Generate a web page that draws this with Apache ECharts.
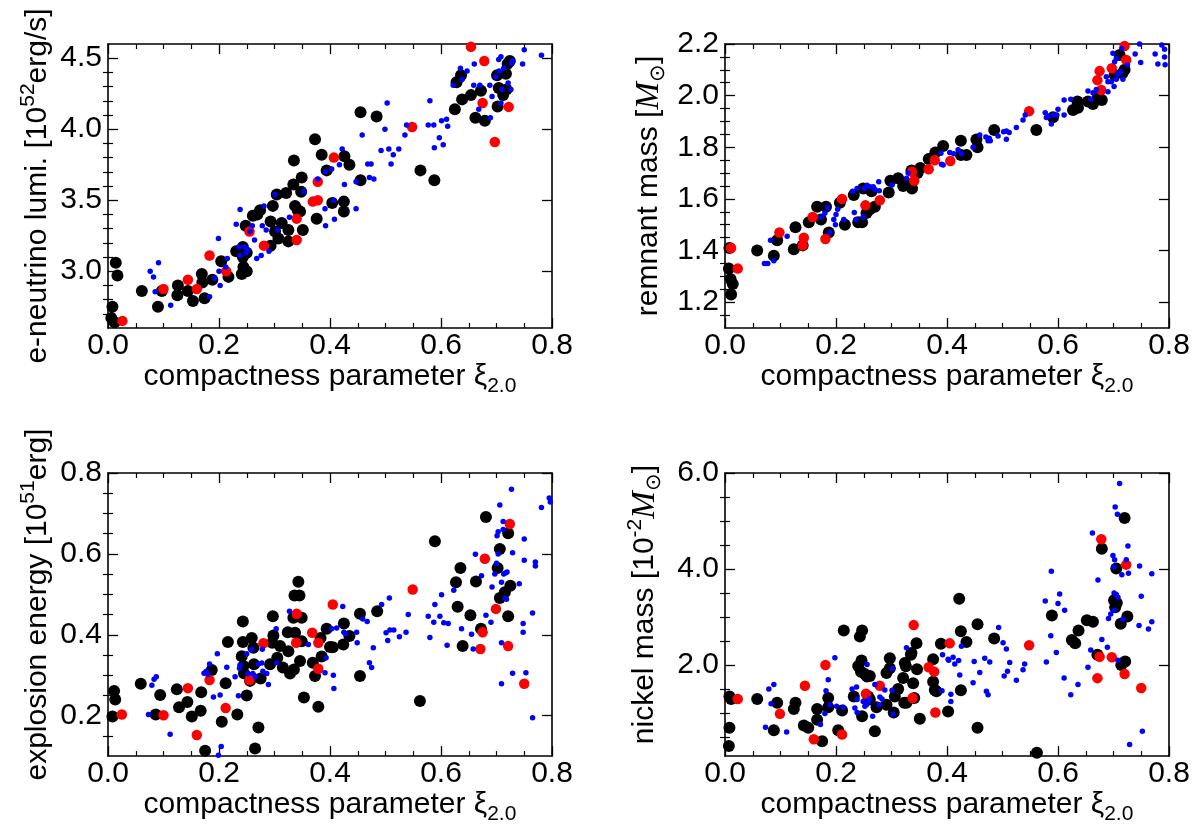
<!DOCTYPE html>
<html>
<head>
<meta charset="utf-8">
<script src="https://cdn.jsdelivr.net/npm/echarts@6/dist/echarts.min.js"></script>
<style>html,body{margin:0;padding:0;background:#fff}#chart{width:1199px;height:826px}</style>
</head>
<body>
<div id="chart"></div>
<script>
// ---- tick values ----
const xMajor = [0, 0.2, 0.4, 0.6, 0.8];
const xMinor = [0.05, 0.1, 0.15, 0.25, 0.3, 0.35, 0.45, 0.5, 0.55, 0.65, 0.7, 0.75];
const lumiMajor = [3.0, 3.5, 4.0, 4.5];
const lumiMinor = [2.7, 2.8, 2.9, 3.1, 3.2, 3.3, 3.4, 3.6, 3.7, 3.8, 3.9, 4.1, 4.2, 4.3, 4.4];
const massMajor = [1.2, 1.4, 1.6, 1.8, 2.0, 2.2];
const massMinor = [1.15, 1.25, 1.3, 1.35, 1.45, 1.5, 1.55, 1.65, 1.7, 1.75, 1.85, 1.9, 1.95, 2.05, 2.1, 2.15];
const eexpMajor = [0.2, 0.4, 0.6, 0.8];
const eexpMinor = [0.15, 0.25, 0.3, 0.35, 0.45, 0.5, 0.55, 0.65, 0.7, 0.75];
const niMajor = [2, 4, 6];
const niMinor = [0.5, 1, 1.5, 2.5, 3, 3.5, 4.5, 5, 5.5];

// ---- e-neutrino luminosity ----
const lumiBlack = [[0.008,2.75],[0.006,2.67],[0.012,2.64],[0.014,3.06],[0.017,2.97],[0.061,2.86],[0.09,2.75],[0.097,2.86],[0.126,2.90],[0.125,2.83],[0.144,2.86],[0.153,2.79],[0.169,2.98],[0.17,2.92],[0.174,2.81],[0.188,2.94],[0.204,3.07],[0.217,2.96],[0.231,3.14],[0.243,3.10],[0.244,3.03],[0.241,2.98],[0.25,3.00],[0.243,3.17],[0.25,3.13],[0.248,3.32],[0.261,3.39],[0.274,3.43],[0.269,3.40],[0.293,3.18],[0.297,3.46],[0.293,3.35],[0.301,3.28],[0.307,3.23],[0.313,3.34],[0.321,3.55],[0.304,3.54],[0.325,3.29],[0.325,3.21],[0.335,3.78],[0.334,3.61],[0.337,3.46],[0.342,3.43],[0.349,3.66],[0.348,3.56],[0.351,3.29],[0.346,3.42],[0.373,3.93],[0.376,3.37],[0.385,3.82],[0.394,3.71],[0.404,3.48],[0.426,3.81],[0.425,3.49],[0.425,3.42],[0.435,3.75],[0.455,4.12],[0.455,3.64],[0.484,4.09],[0.563,3.71],[0.588,3.64],[0.625,4.14],[0.628,4.33],[0.636,4.38],[0.638,4.21],[0.654,4.24],[0.662,4.08],[0.672,4.27],[0.679,4.06],[0.701,4.38],[0.704,4.29],[0.702,4.16],[0.712,4.24],[0.717,4.39],[0.72,4.46],[0.724,4.48],[0.718,4.28]];
const lumiRed = [[0.026,2.65],[0.1,2.875],[0.144,2.94],[0.16,2.875],[0.183,3.11],[0.213,3.0],[0.255,3.28],[0.281,3.18],[0.34,3.37],[0.34,3.22],[0.369,3.49],[0.378,3.50],[0.378,3.63],[0.407,3.80],[0.548,4.015],[0.654,4.58],[0.678,4.48],[0.675,4.185],[0.697,3.91],[0.722,4.157]];
const lumiBlue = [[0.076,3.0],[0.082,2.96],[0.091,3.06],[0.085,2.855],[0.113,2.76],[0.183,2.82],[0.192,2.95],[0.199,3.23],[0.2,3.0],[0.202,2.90],[0.212,3.03],[0.215,3.09],[0.231,3.33],[0.238,3.435],[0.236,3.17],[0.238,3.11],[0.246,3.17],[0.249,3.13],[0.252,3.15],[0.256,3.28],[0.26,3.32],[0.264,3.22],[0.268,3.09],[0.276,3.11],[0.278,3.32],[0.281,3.46],[0.285,3.29],[0.29,3.14],[0.301,3.54],[0.306,3.29],[0.327,3.38],[0.353,3.56],[0.378,3.65],[0.391,3.44],[0.392,3.32],[0.392,3.70],[0.403,3.72],[0.407,3.50],[0.408,3.365],[0.417,3.75],[0.422,3.86],[0.426,3.61],[0.447,3.44],[0.447,3.63],[0.458,3.96],[0.468,3.755],[0.474,3.755],[0.471,3.66],[0.479,3.65],[0.492,3.85],[0.499,4.0],[0.503,4.185],[0.506,3.86],[0.51,3.755],[0.514,3.82],[0.524,3.86],[0.535,3.96],[0.538,4.03],[0.577,4.03],[0.58,4.2],[0.587,4.03],[0.588,3.87],[0.597,3.94],[0.601,4.06],[0.604,3.89],[0.61,4.07],[0.612,4.02],[0.622,4.31],[0.635,4.43],[0.638,4.35],[0.647,4.41],[0.659,4.31],[0.66,4.46],[0.668,4.14],[0.67,4.31],[0.688,4.31],[0.689,4.08],[0.692,4.23],[0.699,4.37],[0.704,4.49],[0.705,4.41],[0.708,4.51],[0.71,4.28],[0.713,4.43],[0.708,4.185],[0.721,4.325],[0.726,4.28],[0.729,4.48],[0.727,4.465],[0.747,4.46],[0.75,4.56],[0.781,4.52]];

// ---- remnant mass ----
const massBlack = [[0.008,1.41],[0.007,1.33],[0.010,1.29],[0.014,1.27],[0.011,1.23],[0.058,1.40],[0.088,1.38],[0.094,1.44],[0.124,1.405],[0.127,1.49],[0.14,1.42],[0.151,1.51],[0.166,1.57],[0.173,1.52],[0.182,1.57],[0.187,1.47],[0.207,1.585],[0.216,1.50],[0.232,1.615],[0.24,1.51],[0.247,1.51],[0.249,1.64],[0.255,1.545],[0.261,1.56],[0.264,1.63],[0.27,1.57],[0.295,1.625],[0.298,1.67],[0.312,1.68],[0.321,1.65],[0.327,1.66],[0.337,1.64],[0.336,1.71],[0.352,1.72],[0.347,1.70],[0.367,1.755],[0.379,1.78],[0.393,1.805],[0.425,1.825],[0.425,1.77],[0.435,1.77],[0.453,1.83],[0.455,1.80],[0.485,1.867],[0.561,1.867],[0.591,1.916],[0.627,1.944],[0.635,1.977],[0.636,1.953],[0.654,1.977],[0.663,1.968],[0.672,1.996],[0.679,1.983],[0.702,2.08],[0.711,2.157],[0.716,2.087],[0.72,2.10]];
const massRed = [[0.011,1.41],[0.023,1.33],[0.098,1.47],[0.142,1.45],[0.14,1.42],[0.158,1.53],[0.181,1.445],[0.211,1.60],[0.253,1.575],[0.279,1.595],[0.337,1.705],[0.341,1.67],[0.367,1.715],[0.378,1.75],[0.406,1.747],[0.548,1.94],[0.675,2.095],[0.671,2.06],[0.678,2.022],[0.697,2.106],[0.72,2.192],[0.723,2.138]];
const massBlue = [[0.071,1.35],[0.077,1.35],[0.088,1.36],[0.082,1.44],[0.112,1.455],[0.173,1.53],[0.18,1.545],[0.185,1.567],[0.189,1.47],[0.196,1.52],[0.199,1.50],[0.2,1.54],[0.203,1.56],[0.214,1.52],[0.233,1.547],[0.236,1.52],[0.249,1.53],[0.23,1.63],[0.238,1.64],[0.251,1.64],[0.256,1.653],[0.261,1.647],[0.267,1.647],[0.27,1.637],[0.277,1.666],[0.278,1.632],[0.301,1.654],[0.327,1.68],[0.33,1.70],[0.389,1.777],[0.39,1.734],[0.393,1.731],[0.405,1.78],[0.412,1.775],[0.42,1.79],[0.426,1.775],[0.447,1.80],[0.459,1.848],[0.47,1.84],[0.474,1.825],[0.478,1.825],[0.476,1.835],[0.492,1.844],[0.502,1.86],[0.507,1.863],[0.512,1.857],[0.507,1.831],[0.525,1.877],[0.537,1.906],[0.541,1.925],[0.577,1.934],[0.579,1.915],[0.582,1.92],[0.588,1.89],[0.592,1.925],[0.598,1.925],[0.6,1.947],[0.611,1.925],[0.611,1.983],[0.623,1.986],[0.654,2.018],[0.659,1.986],[0.663,2.011],[0.669,2.024],[0.69,2.015],[0.687,2.073],[0.69,2.054],[0.696,2.054],[0.701,2.035],[0.705,2.063],[0.708,2.084],[0.713,2.093],[0.717,2.063],[0.699,2.164],[0.702,2.131],[0.705,2.144],[0.715,2.183],[0.725,2.119],[0.739,2.161],[0.747,2.2],[0.749,2.128],[0.775,2.161],[0.78,2.123],[0.787,2.196],[0.792,2.18],[0.792,2.15],[0.793,2.12]];

// ---- explosion energy ----
const eexpBlack = [[0.011,0.261],[0.013,0.24],[0.008,0.198],[0.059,0.279],[0.086,0.203],[0.094,0.251],[0.124,0.265],[0.128,0.221],[0.143,0.234],[0.151,0.198],[0.168,0.258],[0.167,0.212],[0.175,0.113],[0.187,0.313],[0.205,0.185],[0.212,0.28],[0.216,0.382],[0.233,0.203],[0.243,0.433],[0.243,0.382],[0.241,0.347],[0.244,0.323],[0.245,0.305],[0.25,0.25],[0.259,0.392],[0.262,0.368],[0.263,0.327],[0.256,0.286],[0.259,0.294],[0.271,0.171],[0.265,0.119],[0.275,0.292],[0.292,0.327],[0.297,0.446],[0.298,0.398],[0.296,0.38],[0.305,0.343],[0.31,0.372],[0.315,0.319],[0.324,0.406],[0.325,0.359],[0.328,0.304],[0.335,0.314],[0.334,0.442],[0.337,0.405],[0.336,0.497],[0.345,0.497],[0.343,0.531],[0.346,0.335],[0.349,0.442],[0.349,0.384],[0.353,0.245],[0.369,0.331],[0.373,0.298],[0.379,0.222],[0.383,0.392],[0.385,0.346],[0.394,0.415],[0.4,0.37],[0.405,0.369],[0.424,0.376],[0.425,0.428],[0.435,0.397],[0.454,0.298],[0.454,0.452],[0.485,0.458],[0.562,0.236],[0.589,0.631],[0.627,0.53],[0.63,0.469],[0.635,0.565],[0.639,0.372],[0.653,0.448],[0.663,0.532],[0.672,0.415],[0.681,0.691],[0.702,0.565],[0.706,0.612],[0.706,0.491],[0.715,0.505],[0.721,0.651],[0.721,0.446],[0.725,0.521]];
const eexpRed = [[0.025,0.203],[0.1,0.201],[0.144,0.268],[0.16,0.152],[0.183,0.288],[0.212,0.219],[0.255,0.288],[0.28,0.379],[0.34,0.452],[0.339,0.38],[0.368,0.405],[0.379,0.38],[0.379,0.316],[0.405,0.475],[0.549,0.512],[0.675,0.406],[0.671,0.365],[0.679,0.588],[0.699,0.464],[0.721,0.372],[0.724,0.674],[0.75,0.279]];
const eexpBlue = [[0.073,0.203],[0.079,0.275],[0.083,0.29],[0.087,0.296],[0.112,0.154],[0.173,0.305],[0.177,0.31],[0.183,0.328],[0.18,0.302],[0.19,0.246],[0.197,0.353],[0.202,0.251],[0.204,0.124],[0.199,0.102],[0.214,0.32],[0.229,0.296],[0.235,0.249],[0.237,0.317],[0.238,0.325],[0.25,0.353],[0.259,0.364],[0.252,0.304],[0.261,0.304],[0.266,0.296],[0.271,0.328],[0.277,0.33],[0.278,0.364],[0.279,0.31],[0.286,0.304],[0.289,0.277],[0.303,0.415],[0.304,0.331],[0.327,0.458],[0.361,0.376],[0.393,0.343],[0.391,0.306],[0.403,0.415],[0.412,0.417],[0.423,0.47],[0.425,0.406],[0.428,0.402],[0.406,0.3],[0.407,0.267],[0.448,0.406],[0.449,0.38],[0.459,0.439],[0.467,0.433],[0.471,0.331],[0.475,0.319],[0.478,0.368],[0.493,0.475],[0.501,0.405],[0.504,0.386],[0.508,0.412],[0.515,0.412],[0.507,0.491],[0.525,0.395],[0.537,0.406],[0.541,0.45],[0.577,0.446],[0.58,0.393],[0.587,0.431],[0.589,0.475],[0.598,0.446],[0.601,0.499],[0.605,0.43],[0.613,0.428],[0.611,0.374],[0.623,0.51],[0.637,0.415],[0.655,0.401],[0.658,0.365],[0.662,0.599],[0.673,0.546],[0.681,0.448],[0.69,0.431],[0.692,0.518],[0.697,0.55],[0.7,0.577],[0.703,0.6],[0.701,0.645],[0.703,0.655],[0.706,0.721],[0.712,0.68],[0.712,0.66],[0.713,0.55],[0.716,0.553],[0.719,0.555],[0.709,0.279],[0.709,0.38],[0.709,0.53],[0.715,0.49],[0.718,0.488],[0.727,0.76],[0.729,0.603],[0.729,0.305],[0.741,0.526],[0.75,0.637],[0.75,0.584],[0.748,0.428],[0.748,0.406],[0.753,0.306],[0.765,0.195],[0.765,0.454],[0.77,0.58],[0.77,0.57],[0.781,0.715],[0.795,0.738],[0.797,0.728]];

// ---- nickel mass ----
const niBlack = [[0.008,1.34],[0.011,1.29],[0.008,0.69],[0.007,0.31],[0.058,1.29],[0.088,0.64],[0.094,1.21],[0.124,1.08],[0.127,1.21],[0.142,0.74],[0.15,0.69],[0.166,1.08],[0.166,0.86],[0.175,0.41],[0.186,1.31],[0.186,1.12],[0.204,0.64],[0.211,1.05],[0.214,2.72],[0.232,1.34],[0.243,2.59],[0.247,2.72],[0.24,1.98],[0.245,1.86],[0.246,2.09],[0.247,0.93],[0.252,1.81],[0.256,1.76],[0.261,1.77],[0.258,1.34],[0.261,1.28],[0.27,0.62],[0.273,1.12],[0.291,1.17],[0.291,1.83],[0.297,2.14],[0.297,1.93],[0.304,1.01],[0.306,1.34],[0.312,1.50],[0.321,1.73],[0.323,1.21],[0.324,2.04],[0.326,1.97],[0.327,1.21],[0.336,2.25],[0.335,2.21],[0.339,1.62],[0.341,1.31],[0.345,2.45],[0.346,1.91],[0.351,0.88],[0.375,2.12],[0.375,1.65],[0.378,1.48],[0.381,1.45],[0.389,2.44],[0.402,1.03],[0.422,3.38],[0.425,2.70],[0.425,1.47],[0.435,2.48],[0.455,2.85],[0.455,0.69],[0.485,2.55],[0.562,0.17],[0.589,3.03],[0.625,2.52],[0.631,2.45],[0.637,2.72],[0.652,2.93],[0.663,2.90],[0.671,2.21],[0.679,4.42],[0.705,4.01],[0.703,3.20],[0.706,3.29],[0.701,3.35],[0.713,2.86],[0.714,2.0],[0.721,2.07],[0.72,5.06],[0.725,3.01]];
const niRed = [[0.023,1.29],[0.099,0.98],[0.144,1.565],[0.16,0.45],[0.181,2.0],[0.211,0.55],[0.254,1.40],[0.279,1.565],[0.338,1.31],[0.34,2.83],[0.367,1.95],[0.377,1.86],[0.379,1.01],[0.405,2.45],[0.548,2.41],[0.675,2.17],[0.671,1.725],[0.678,4.62],[0.697,2.16],[0.72,1.81],[0.723,4.09],[0.75,1.52]];
const niBlue = [[0.073,0.70],[0.079,1.50],[0.088,1.59],[0.083,1.19],[0.111,0.60],[0.172,0.76],[0.18,0.99],[0.182,1.46],[0.186,1.69],[0.189,1.17],[0.198,2.15],[0.201,1.14],[0.213,1.12],[0.229,1.50],[0.234,1.10],[0.237,1.54],[0.238,1.28],[0.238,1.01],[0.249,1.24],[0.252,1.14],[0.255,1.17],[0.259,1.24],[0.256,2.01],[0.26,1.29],[0.266,0.93],[0.27,1.59],[0.278,1.17],[0.279,1.33],[0.283,1.29],[0.288,1.48],[0.301,1.47],[0.301,1.92],[0.303,0.97],[0.327,2.36],[0.402,2.12],[0.392,2.21],[0.391,1.46],[0.403,2.1],[0.411,2.16],[0.414,2.02],[0.421,2.09],[0.407,1.39],[0.407,1.24],[0.423,1.79],[0.426,2.39],[0.447,1.63],[0.449,2.07],[0.459,1.84],[0.468,2.14],[0.471,1.45],[0.474,1.38],[0.477,2.06],[0.493,2.78],[0.501,2.46],[0.507,2.33],[0.503,1.77],[0.509,1.87],[0.513,2.05],[0.525,1.68],[0.537,1.90],[0.54,2.02],[0.577,3.33],[0.579,2.06],[0.587,2.61],[0.588,3.95],[0.597,2.26],[0.6,3.28],[0.603,3.48],[0.612,3.14],[0.611,1.73],[0.623,1.38],[0.636,1.59],[0.654,1.95],[0.659,2.31],[0.662,4.75],[0.672,3.77],[0.679,2.53],[0.689,2.37],[0.691,2.97],[0.695,3.06],[0.699,4.28],[0.701,4.04],[0.702,4.19],[0.703,5.29],[0.707,5.14],[0.711,5.78],[0.705,3.47],[0.708,3.41],[0.701,3.5],[0.701,3.14],[0.708,2.10],[0.715,3.88],[0.726,4.48],[0.727,3.91],[0.717,2.95],[0.723,4.19],[0.729,0.34],[0.747,4.06],[0.75,3.43],[0.746,2.82],[0.752,0.62],[0.763,2.75],[0.769,3.90],[0.769,2.90]];

const FONT = 'Liberation Sans';
const chart = echarts.init(document.getElementById('chart'), null, { renderer: 'canvas' });

const grids = [
  { left: 108, top: 44, width: 444, height: 284 },
  { left: 725, top: 44, width: 444, height: 284 },
  { left: 108, top: 473, width: 444, height: 284 },
  { left: 725, top: 473, width: 444, height: 284 }
];

const txt = { fontFamily: FONT, fontSize: 30, color: '#000', lineHeight: 40 };
const sub = { fontFamily: FONT, fontSize: 21, color: '#000', lineHeight: 20, verticalAlign: 'bottom' };
const sup = { fontFamily: FONT, fontSize: 21, color: '#000', lineHeight: 20, verticalAlign: 'top' };
const mItal = { fontFamily: 'Liberation Serif', fontStyle: 'italic', fontSize: 33, color: '#000', lineHeight: 40 };
const rich = { t: txt, s: sub, p: sup, m: mItal };

// one side of a frame: long ticks (+labels) and short ticks as two axes
function side(gi, pos, min, max, major, minor, labels, fmt, name, gap, margin, pad) {
  const rot = (pos === 'left' || pos === 'right') ? 90 : 0;
  const a = {
    gridIndex: gi, type: 'value', min: min, max: max, position: pos,
    splitLine: { show: false },
    axisLine: { show: true, onZero: false, lineStyle: { color: '#000', width: 1.6 } },
    axisTick: { show: true, inside: true, length: 10, customValues: major, lineStyle: { color: '#000', width: 1.3 } },
    axisLabel: { show: !!labels, customValues: major, formatter: fmt, color: '#000', fontFamily: FONT, fontSize: 30, margin: margin || 6 }
  };
  if (name) {
    a.name = name;
    a.nameLocation = 'middle';
    a.nameGap = gap;
    a.nameRotate = rot;
    a.nameTextStyle = { rich: rich, padding: pad || 0 };
  }
  const b = {
    gridIndex: gi, type: 'value', min: min, max: max, position: pos,
    splitLine: { show: false }, axisLine: { show: false }, axisLabel: { show: false },
    axisTick: { show: true, inside: true, length: 5, customValues: minor, lineStyle: { color: '#000', width: 1.2 } }
  };
  return [a, b];
}

const f1 = v => v.toFixed(1);
const xName = '{t|compactness parameter ξ}{s|2.0}';
const panels = [
  { y: [2.6, 4.6, lumiMajor, lumiMinor], gap: 50, pad: 0, name: '{t|e-neutrino lumi. [10}{p|52}{t|erg/s]}', data: [lumiBlack, lumiRed, lumiBlue] },
  { y: [1.1, 2.2, massMajor, massMinor], gap: 56, pad: 0, name: '{t|remnant mass [}{m|M}{s|⊙}{t|]}', data: [massBlack, massRed, massBlue] },
  { y: [0.1, 0.8, eexpMajor, eexpMinor], gap: 50, pad: [0, 0, 0, 20], name: '{t|explosion energy [10}{p|51}{t|erg]}', data: [eexpBlack, eexpRed, eexpBlue] },
  { y: [0.1, 6.0, niMajor, niMinor], gap: 60, pad: [0, 0, 0, 20], name: '{t|nickel mass [10}{p|-2}{m|M}{s|⊙}{t|]}', data: [niBlack, niRed, niBlue] }
];

const xAxes = [], yAxes = [], series = [];
const colors = ['#000000', '#ff0000', '#0000ff'];
const sizes = [12, 10.5, 5.5];
panels.forEach((p, gi) => {
  const xi = xAxes.length, yi = yAxes.length;
  xAxes.push(...side(gi, 'bottom', 0, 0.8, xMajor, xMinor, true, f1, xName, 26, 3));
  xAxes.push(...side(gi, 'top', 0, 0.8, xMajor, xMinor, false));
  yAxes.push(...side(gi, 'left', p.y[0], p.y[1], p.y[2], p.y[3], true, f1, p.name, p.gap, 6, p.pad));
  yAxes.push(...side(gi, 'right', p.y[0], p.y[1], p.y[2], p.y[3], false));
  p.data.forEach((d, k) => {
    series.push({
      type: 'scatter', xAxisIndex: xi, yAxisIndex: yi, data: d,
      symbol: 'circle', symbolSize: sizes[k], itemStyle: { color: colors[k], opacity: 1 },
      silent: true, animation: false
    });
  });
});

chart.setOption({
  backgroundColor: '#fff',
  animation: false,
  grid: grids,
  xAxis: xAxes,
  yAxis: yAxes,
  series: series
});
</script>
</body>
</html>
